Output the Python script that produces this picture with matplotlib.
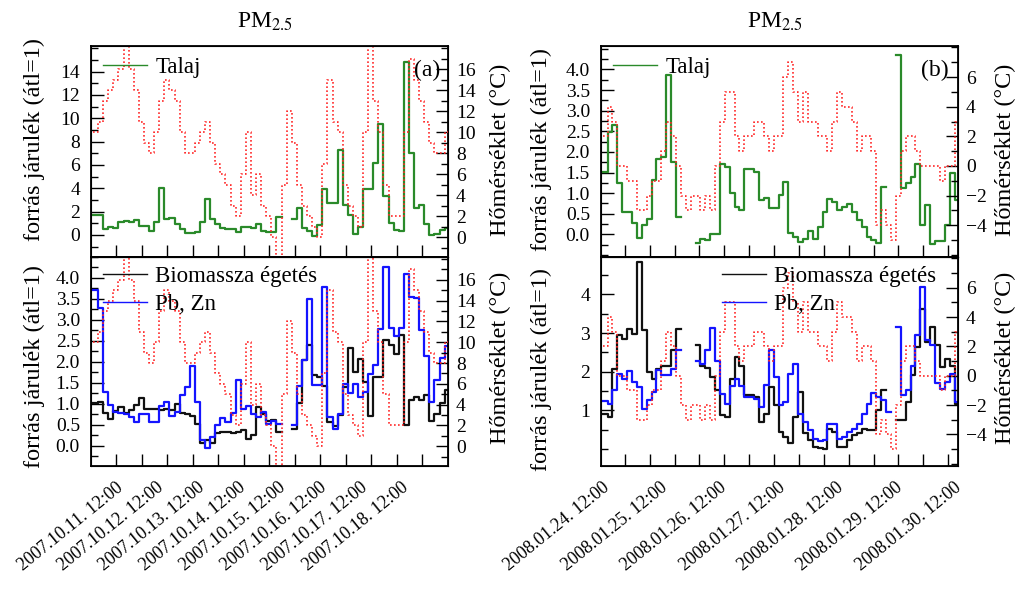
import numpy as np
import matplotlib
matplotlib.use("Agg")
import matplotlib.pyplot as plt
import matplotlib.dates as mdates
from matplotlib.ticker import FixedLocator, MultipleLocator, FormatStrFormatter

plt.rcParams['font.family'] = ['Liberation Serif', 'DejaVu Serif']
plt.rcParams['mathtext.fontset'] = 'stix'

nan = np.nan

# 2007 October episode, 3-hour averages
oct_start = '2007-10-10T16:30'
oct_bin_hours = 3
oct_talaj = [1.71, 1.71, 0.49, 0.69, 0.63, 1.06, 1.20, 1.06, 1.26, 0.77,
             0.77, 0.29, 1.11, 4.00, 1.40, 1.46, 0.97, 0.49, 0.14, 0.20,
             0.26, 1.06, 3.06, 1.34, 0.91, 0.63, 0.49, 0.46, 0.26, 0.71,
             0.69, 0.57, 0.91, 0.29, 0.23, 0.23, 1.49, nan, nan, 1.34,
             2.29, 0.57, 0.34, -0.09, 0.83, 3.91, 2.77, 2.71, 7.26, 2.54,
             1.69, 0.11, 0.69, 3.91, 3.91, 6.20, 9.54, 3.31, 1.00, 0.43,
             0.34, 14.83, 7.06, 2.34, 2.54, 0.97, -0.03, 0.06, 0.40, 0.63]
oct_biomassza = [1.01, 1.05, 0.79, 0.65, 0.83, 0.93, 0.79, 0.85, 0.97, 1.14,
                 0.87, 0.87, 0.87, 0.85, 0.89, 0.85, 0.99, 0.79, 0.77, 0.71,
                 0.53, 0.07, 0.15, 0.07, 0.31, 0.33, 0.33, 0.31, 0.33, 0.37,
                 0.17, 0.25, 0.93, 0.77, 0.60, 0.61, 0.33, nan, nan, 0.39,
                 1.01, 2.04, 2.40, 1.68, 1.64, 1.42, 0.57, 0.47, 0.73, 1.40,
                 2.34, 1.76, 2.08, 1.52, 0.71, 1.63, 1.63, 2.53, 2.40, 2.20,
                 2.63, 0.49, 1.10, 1.17, 1.09, 1.21, 0.60, 0.77, 1.01, 1.34]
oct_pbzn = [3.71, 3.29, 1.29, 0.97, 0.81, 0.79, 0.77, 0.69, 0.57, 0.75,
            0.75, 0.57, 0.57, 0.94, 1.05, 0.71, 0.81, 1.21, 1.40, 1.90,
            1.05, 0.15, -0.04, 0.20, 0.49, 0.67, 0.57, 0.79, 1.58, 0.87,
            0.95, 0.75, 0.69, 0.81, 0.53, 0.60, 0.52, nan, nan, 0.49,
            1.42, 2.04, 3.51, 1.44, 1.44, 3.79, 0.69, 0.39, 0.77, 1.48,
            1.25, 1.48, 1.17, 1.29, 1.72, 1.92, 2.79, 4.26, 2.82, 2.61,
            2.82, 4.10, 3.55, 3.53, 2.75, 2.13, 1.05, 1.56, 2.10, 2.37]
oct_temp = [10, 11, 13, 14, 15, 16, 20, 16, 14, 11,
            9, 8, 10, 13, 15, 14, 13, 10, 8, 8,
            9, 10, 11, 9, 7, 6, 5, 3, 2, 6,
            10, 4, 6, 3, 2, 0, -3, 5, 12, 9,
            5, 3, 2, 1, 0, 7, 15, 11, 10, 5,
            3, 2, 1, 10, 20, 13, 10, 5, 2, 2,
            2, 10, 17, 15, 13, 11, 9, 8, 8, 10]
oct_days = ['2007-10-11', '2007-10-12', '2007-10-13', '2007-10-14',
            '2007-10-15', '2007-10-16', '2007-10-17', '2007-10-18']

# 2008 January episode, 2-hour averages
jan_start = '2008-01-24T08:00'
jan_bin_hours = 2
jan_talaj = [1.52, 2.49, 2.65, 1.24, 0.53, 0.53, 0.28, -0.10, 0.23, 0.37,
             1.32, 1.84, 1.87, 3.86, 1.76, 0.43, nan, nan, nan, -0.22,
             -0.12, -0.14, 0.00, 0.00, 1.70, 1.64, 1.01, 0.67, 0.59, 1.58,
             1.58, 1.52, 0.83, 0.89, 0.63, 0.63, 0.95, 1.28, 0.04, -0.06,
             -0.18, -0.12, 0.09, -0.12, 0.19, 0.53, 0.85, 0.79, 0.59, 0.67,
             0.74, 0.55, 0.35, 0.19, -0.06, -0.14, -0.22, 1.14, nan, nan,
             4.35, 1.12, 1.24, 1.40, 1.70, 0.23, 0.71, -0.23, -0.16, -0.16,
             0.23, 1.48, 0.83]
jan_biomassza = [0.90, 0.83, 2.08, 2.94, 2.85, 3.11, 2.98, 4.84, 3.07, 1.99,
                 1.82, 2.08, 2.16, 2.16, 2.55, 3.11, nan, nan, nan, 2.70,
                 2.16, 2.10, 1.86, 1.52, 0.87, 0.83, 1.82, 2.38, 2.16, 1.41,
                 1.41, 1.34, 0.70, 0.91, 1.60, 1.13, 0.44, 0.31, 0.16, 0.83,
                 1.47, 0.41, 0.24, 0.05, 0.03, 0.01, 0.53, 0.44, 0.05, 0.05,
                 0.24, 0.35, 0.41, 0.53, 0.50, 0.48, 1.02, 1.52, nan, nan,
                 0.74, 0.74, 1.22, 1.91, 2.64, 3.63, 2.77, 3.17, 2.68, 2.12,
                 2.34, 2.16, 1.17]
jan_pbzn = [1.24, 1.16, 1.52, 1.93, 1.82, 2.03, 1.73, 1.60, 1.04, 1.28,
            1.47, 2.05, 1.91, 1.91, 2.08, 2.57, nan, nan, nan, 2.29,
            2.21, 2.55, 3.14, 2.29, 1.43, 1.17, 1.62, 1.82, 1.62, 1.34,
            1.34, 1.30, 1.09, 1.65, 2.57, 1.86, 1.13, 1.22, 1.95, 2.21,
            0.91, 0.70, 0.48, 0.27, 0.21, 0.24, 0.66, 0.66, 0.27, 0.31,
            0.44, 0.53, 0.64, 0.90, 1.17, 1.45, 1.34, 1.28, 0.96, nan,
            3.16, 1.39, 1.52, 2.16, 2.94, 4.19, 2.81, 2.68, 1.71, 1.56,
            1.73, 1.95, 1.22]
jan_temp = [2, 4, 3, 0, 0, -1, -1, -3, -3, -2,
            -1, -1, 1, 3, 2, 0, -2, -3, -2, -2,
            -3, -2, -3, 0, 3, 5, 5, 2, 1, 2,
            2, 3, 3, 2, 1, 2, 2, 6, 7, 5,
            3, 5, 3, 3, 2, 2, 1, 3, 5, 4,
            4, 3, 1, 2, 2, 1, -4, -3, -4, -5,
            -2, 1, 2, 2, 1, 0, 0, 0, 0, -1,
            0, 0, 3]
jan_days = ['2008-01-24', '2008-01-25', '2008-01-26', '2008-01-27',
            '2008-01-28', '2008-01-29', '2008-01-30']

# axis tick values
oct_top_ticks = [0, 2, 4, 6, 8, 10, 12, 14]
oct_bottom_ticks = [0.0, 0.5, 1.0, 1.5, 2.0, 2.5, 3.0, 3.5, 4.0]
oct_temp_ticks = [0, 2, 4, 6, 8, 10, 12, 14, 16]
jan_top_ticks = [0.0, 0.5, 1.0, 1.5, 2.0, 2.5, 3.0, 3.5, 4.0]
jan_bottom_ticks = [1, 2, 3, 4]
jan_temp_ticks = [-4, -2, 0, 2, 4, 6]

GREEN = '#2a8a2a'
BLUE = '#1414ff'
BLACK = '#111111'
RED = '#ff2a2a'

SRC_LABEL = 'forrás járulék (átl=1)'
TEMP_LABEL = 'Hőmérséklet (°C)'

FIG_W, FIG_H = 1019, 595
LEGEND_KW = dict(loc='upper left', frameon=False, fontsize=16.5, handlelength=1.92,
                 handletextpad=0.35, borderpad=0, borderaxespad=0, labelspacing=0.27)


def bin_edges(start, hours, n):
    t0 = np.datetime64(start)
    return mdates.date2num(t0 + np.arange(n + 1) * np.timedelta64(hours * 60, 'm'))


def draw_steps(ax, edges, values, **kw):
    v = np.asarray(values, dtype=float)
    return ax.step(edges, np.append(v, v[-1]), where='post', **kw)[0]


def style_left(ax, ylim, ticks, minor, fmt, label_xy):
    ax.set_ylim(*ylim)
    ax.yaxis.set_major_locator(FixedLocator(ticks))
    ax.yaxis.set_minor_locator(MultipleLocator(minor))
    ax.yaxis.set_major_formatter(FormatStrFormatter(fmt))
    ax.tick_params(axis='y', which='major', direction='in', length=9, width=1,
                   labelsize=14, pad=8)
    ax.tick_params(axis='y', which='minor', direction='in', length=5, width=1)
    ax.tick_params(axis='x', which='major', direction='in', length=9, width=1,
                   labelbottom=False, top=False)
    ax.set_ylabel(SRC_LABEL, fontsize=17.5)
    ax.yaxis.set_label_coords(*label_xy)
    for s in ax.spines.values():
        s.set_linewidth(1.3)


def style_right(tw, ylim, ticks, label_xy):
    tw.set_ylim(*ylim)
    tw.yaxis.set_major_locator(FixedLocator(ticks))
    tw.yaxis.set_minor_locator(MultipleLocator(1))
    tw.tick_params(axis='y', which='major', direction='in', length=9, width=1,
                   labelsize=14, pad=6)
    tw.tick_params(axis='y', which='minor', direction='in', length=5, width=1)
    tw.set_ylabel(TEMP_LABEL, fontsize=17.5)
    tw.yaxis.set_label_coords(*label_xy)


def draw_column(cfg):
    n = len(cfg['talaj'])
    edges = bin_edges(cfg['start'], cfg['hours'], n)
    w = edges[1] - edges[0]
    xlim = (edges[0] - cfg['lead'] * w, edges[0] + cfg['span'] * w)
    x0 = cfg['left'] / FIG_W
    width = 356.7 / FIG_W

    ax_top = fig.add_axes([x0, 1 - 257 / FIG_H, width, 211 / FIG_H])
    ax_bot = fig.add_axes([x0, 1 - 466 / FIG_H, width, 209 / FIG_H])

    xticks = [xlim[0] + (cfg['tick0'] + k * cfg['tickstep']) * (xlim[1] - xlim[0])
              for k in range(cfg['nticks'])]

    # upper panel: soil source
    g = draw_steps(ax_top, edges, cfg['talaj'], color=GREEN, lw=1.6)
    tw = ax_top.twinx()
    draw_steps(tw, edges, cfg['temp'], color=RED, lw=1.2, linestyle=(0, (1, 1.4)))
    for a in (ax_top, tw):
        a.set_xlim(*xlim)
    ax_top.xaxis.set_major_locator(FixedLocator(xticks))
    style_left(ax_top, cfg['top_ylim'], cfg['top_ticks'], cfg['top_minor'],
               cfg['top_fmt'], (cfg['lab_x'], cfg['top_lab_y']))
    style_right(tw, cfg['temp_ylim'], cfg['temp_ticks'], (cfg['rlab_x'], 0.51))
    leg = tw.legend([g], ['Talaj'], bbox_to_anchor=(0.034, 0.95), **LEGEND_KW)
    for line in leg.get_lines():
        line.set_linewidth(1.0)
    tw.text(cfg['tag_x'], 0.885, cfg['tag'], transform=tw.transAxes,
            ha='right', va='center', fontsize=17)

    # lower panel: biomass burning and Pb, Zn sources
    b = draw_steps(ax_bot, edges, cfg['biomassza'], color=BLACK, lw=1.6)
    p = draw_steps(ax_bot, edges, cfg['pbzn'], color=BLUE, lw=1.6)
    tw2 = ax_bot.twinx()
    draw_steps(tw2, edges, cfg['temp'], color=RED, lw=1.2, linestyle=(0, (1, 1.4)))
    for a in (ax_bot, tw2):
        a.set_xlim(*xlim)
    ax_bot.xaxis.set_major_locator(FixedLocator(xticks))
    style_left(ax_bot, cfg['bot_ylim'], cfg['bot_ticks'], cfg['bot_minor'],
               cfg['bot_fmt'], (cfg['lab_x'], cfg['bot_lab_y']))
    style_right(tw2, cfg['temp_ylim'], cfg['temp_ticks'], (cfg['rlab_x'], 0.52))
    leg2 = tw2.legend([b, p], ['Biomassza égetés', 'Pb, Zn'],
                      bbox_to_anchor=(cfg['leg2_x'], 0.955), **LEGEND_KW)
    for line in leg2.get_lines():
        line.set_linewidth(1.0)

    # date labels at noon of each day, their upper right end at the date
    for d in cfg['days']:
        t = np.datetime64(d + 'T12:00')
        txt = t.astype(object).strftime('%Y.%m.%d. %H:%M')
        ax_bot.text(mdates.date2num(t), -0.062, txt,
                    transform=ax_bot.get_xaxis_transform(), rotation=39,
                    ha='right', va='top', fontsize=13, clip_on=False)

    fig.text(x0 + width / 2 - 4 / FIG_W, 1 - 22 / FIG_H, 'PM$_{2.5}$',
             ha='center', va='center', fontsize=17)


fig = plt.figure(figsize=(FIG_W / 100, FIG_H / 100), dpi=100)

draw_column(dict(
    left=91, start=oct_start, hours=oct_bin_hours, lead=0.39, span=69.6,
    talaj=oct_talaj, biomassza=oct_biomassza, pbzn=oct_pbzn, temp=oct_temp,
    days=oct_days, tick0=1 / 14, tickstep=1 / 14, nticks=13,
    top_ylim=(-1.9, 16.2), top_ticks=oct_top_ticks, top_minor=1, top_fmt='%g',
    bot_ylim=(-0.48, 4.5), bot_ticks=oct_bottom_ticks, bot_minor=0.25, bot_fmt='%.1f',
    temp_ylim=(-1.9, 18.2), temp_ticks=oct_temp_ticks,
    lab_x=-0.129, top_lab_y=0.555, bot_lab_y=0.478, rlab_x=1.119,
    leg2_x=0.034, tag='(a)', tag_x=0.978))

draw_column(dict(
    left=601, start=jan_start, hours=jan_bin_hours, lead=0.34, span=72.65,
    talaj=jan_talaj, biomassza=jan_biomassza, pbzn=jan_pbzn, temp=jan_temp,
    days=jan_days, tick0=0.067, tickstep=0.0697, nticks=14,
    top_ylim=(-0.55, 4.57), top_ticks=jan_top_ticks, top_minor=0.25, top_fmt='%.1f',
    bot_ylim=(-0.44, 4.97), bot_ticks=jan_bottom_ticks, bot_minor=0.5, bot_fmt='%g',
    temp_ylim=(-6.15, 8.1), temp_ticks=jan_temp_ticks,
    lab_x=-0.137, top_lab_y=0.51, bot_lab_y=0.46, rlab_x=1.105,
    leg2_x=0.339, tag='(b)', tag_x=0.974))

fig.savefig('out.png', dpi=100)
